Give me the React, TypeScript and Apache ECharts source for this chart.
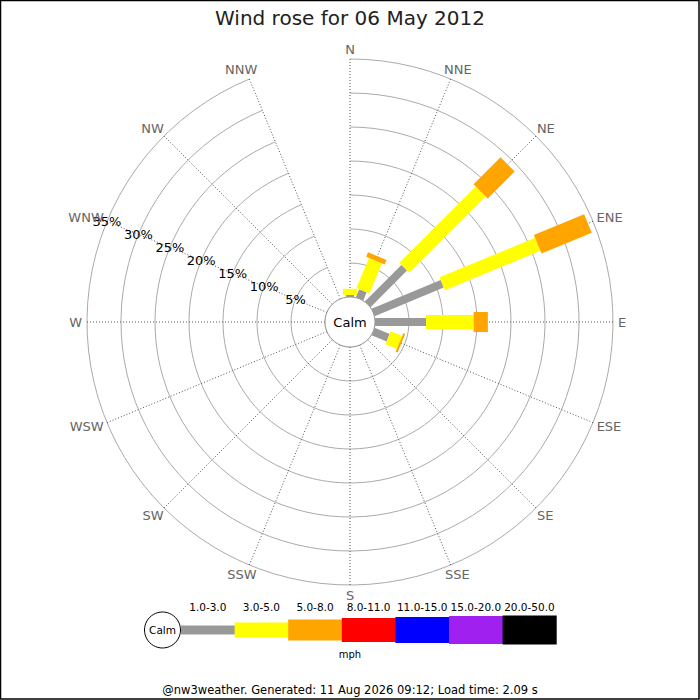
import React, { useEffect, useRef } from "react";
import * as echarts from "echarts";

const TITLE = "Wind rose for 06 May 2012";
const FOOTER = "@nw3weather. Generated: 11 Aug 2026 09:12; Load time: 2.09 s";
const DIRECTIONS = ["N", "NNE", "NE", "ENE", "E", "ESE", "SE", "SSE", "S", "SSW", "SW", "WSW", "W", "WNW", "NW", "NNW"];
const SPEED_CLASSES = ["1.0-3.0", "3.0-5.0", "5.0-8.0", "8.0-11.0", "11.0-15.0", "15.0-20.0", "20.0-50.0"];
const CLASS_COLORS = ["#999999", "#ffff00", "#ffa500", "#ff0000", "#0000ff", "#a020f0", "#000000"];
const CLASS_WIDTHS = [8, 14, 20, 23, 25, 27, 28];
const UNIT = "mph";
const CALM_LABEL = "Calm";

// frequency (%) per direction for each speed class
const FREQ_1_3 = [0.3, 1.3, 7.6, 11.0, 7.5, 2.4, 0, 0, 0, 0, 0, 0, 0, 0, 0, 0];
const FREQ_3_5 = [0.9, 4.8, 15.9, 15.2, 7.0, 1.8, 0, 0, 0, 0, 0, 0, 0, 0, 0, 0];
const FREQ_5_8 = [0, 0.7, 5.6, 8.0, 2.1, 0.3, 0, 0, 0, 0, 0, 0, 0, 0, 0, 0];
const FREQ_8_11 = [0, 0, 0, 0, 0, 0, 0, 0, 0, 0, 0, 0, 0, 0, 0, 0];
const FREQ_11_15 = [0, 0, 0, 0, 0, 0, 0, 0, 0, 0, 0, 0, 0, 0, 0, 0];
const FREQ_15_20 = [0, 0, 0, 0, 0, 0, 0, 0, 0, 0, 0, 0, 0, 0, 0, 0];
const FREQ_20_50 = [0, 0, 0, 0, 0, 0, 0, 0, 0, 0, 0, 0, 0, 0, 0, 0];
const RING_TICKS = [5, 10, 15, 20, 25, 30, 35];
const RING_MAX = 35;
const RING_LABEL_DIRECTION = "WNW";

const FONT = "DejaVu Sans";

function measureText(text: string, font: string): number {
  const cv = document.createElement("canvas");
  const ctx = cv.getContext("2d");
  if (!ctx) return text.length * 8;
  ctx.font = font;
  return ctx.measureText(text).width;
}

export default function App() {
  const ref = useRef<HTMLDivElement>(null);

  useEffect(() => {
    if (!ref.current) return;
    const chart = echarts.init(ref.current, undefined, { renderer: "svg" });

    const classes = [FREQ_1_3, FREQ_3_5, FREQ_5_8, FREQ_8_11, FREQ_11_15, FREQ_15_20, FREQ_20_50];
    const cum = DIRECTIONS.map(() => 0);
    const barSeries = classes.map((freqs, c) => {
      const data: number[][] = [];
      freqs.forEach((v, i) => {
        const s = cum[i];
        const e = s + v;
        cum[i] = e;
        if (v > 0) data.push([i, s, e]);
      });
      const w = CLASS_WIDTHS[c];
      return {
        type: "custom",
        name: SPEED_CLASSES[c],
        coordinateSystem: "polar",
        encode: { angle: 0, radius: 2 },
        data,
        z: 3 + c,
        renderItem: (params: any, api: any) => {
          const i = api.value(0);
          const s = api.value(1);
          const e = api.value(2);
          const p0 = api.coord([s, i]);
          const p1 = api.coord([e, i]);
          let dx = p1[0] - p0[0];
          let dy = p1[1] - p0[1];
          const len = Math.sqrt(dx * dx + dy * dy) || 1;
          dx /= len;
          dy /= len;
          const nx = -dy * (w / 2);
          const ny = dx * (w / 2);
          return {
            type: "polygon",
            shape: {
              points: [
                [p0[0] + nx, p0[1] + ny],
                [p1[0] + nx, p1[1] + ny],
                [p1[0] - nx, p1[1] - ny],
                [p0[0] - nx, p0[1] - ny],
              ],
            },
            style: { fill: CLASS_COLORS[c] },
          };
        },
      };
    });

    const labelDirIdx = DIRECTIONS.indexOf(RING_LABEL_DIRECTION);
    const ringLabelSeries = {
      type: "custom",
      coordinateSystem: "polar",
      encode: { angle: 0, radius: 1 },
      data: RING_TICKS.map((t) => [labelDirIdx, t]),
      z: 20,
      renderItem: (params: any, api: any) => {
        const p = api.coord([api.value(1), api.value(0)]);
        return {
          type: "text",
          x: p[0],
          y: p[1],
          style: {
            text: api.value(1) + "%",
            fill: "#000",
            fontSize: 13,
            fontFamily: FONT,
            align: "center",
            verticalAlign: "middle",
          },
        };
      },
    };

    const dirFont = "13px \"" + FONT + "\"";
    const dirLabelSeries = {
      type: "custom",
      coordinateSystem: "polar",
      encode: { angle: 0, radius: 1 },
      data: DIRECTIONS.map((d, i) => [i, RING_MAX]),
      z: 20,
      renderItem: (params: any, api: any) => {
        const idx = api.value(0);
        const text = DIRECTIONS[idx];
        const p = api.coord([api.value(1), idx]);
        const cs = params.coordSys;
        const dx = p[0] - cs.cx;
        const dy = cs.cy - p[1];
        const r = Math.sqrt(dx * dx + dy * dy) || 1;
        const s = dx / r;
        const c = dy / r;
        const hw = measureText(text, dirFont) / 2;
        return {
          type: "text",
          x: p[0] + s * (hw + 5),
          y: p[1] - c * 10,
          style: {
            text,
            fill: "#666",
            fontSize: 13,
            fontFamily: FONT,
            align: "center",
            verticalAlign: "middle",
          },
        };
      },
    };

    // legend graphics
    const legendY = 630;
    const legendX0 = 181;
    const segW = 53.6;
    const legendEls: any[] = [];
    SPEED_CLASSES.forEach((lab, c) => {
      const x = legendX0 + c * segW;
      const h = CLASS_WIDTHS[c] + 1;
      legendEls.push({
        type: "rect",
        z: 100,
        shape: { x, y: legendY - h / 2, width: segW + 0.5, height: h },
        style: { fill: CLASS_COLORS[c] },
      });
      legendEls.push({
        type: "text",
        z: 100,
        x: x + segW / 2,
        y: 607,
        style: { text: lab, fill: "#000", fontSize: 10.5, fontFamily: FONT, align: "center", verticalAlign: "middle" },
      });
    });
    legendEls.push({
      type: "circle",
      z: 100,
      shape: { cx: 162.5, cy: legendY, r: 18 },
      style: { fill: "#fff", stroke: "#000", lineWidth: 1 },
    });
    legendEls.push({
      type: "text",
      z: 101,
      x: 162.5,
      y: legendY,
      style: { text: CALM_LABEL, fill: "#000", fontSize: 10.5, fontFamily: FONT, align: "center", verticalAlign: "middle" },
    });
    legendEls.push({
      type: "text",
      z: 100,
      x: 350,
      y: 654,
      style: { text: UNIT, fill: "#000", fontSize: 10, fontFamily: FONT, align: "center", verticalAlign: "middle" },
    });

    const option: any = {
      animation: false,
      backgroundColor: "#fff",
      textStyle: { fontFamily: FONT },
      title: {
        text: TITLE,
        left: "center",
        top: 3,
        textStyle: { fontSize: 20, fontWeight: "normal", color: "#222", fontFamily: FONT },
      },
      polar: { center: [350, 322], radius: [25, 263] },
      angleAxis: {
        type: "category",
        data: DIRECTIONS,
        boundaryGap: false,
        startAngle: 90,
        clockwise: true,
        axisLine: { show: false },
        axisTick: { show: false },
        axisLabel: { show: false },
        splitLine: { show: true, lineStyle: { color: "#555", width: 1, type: [1, 2] } },
      },
      radiusAxis: {
        type: "value",
        min: 0,
        max: RING_MAX,
        interval: 5,
        axisLine: { show: false },
        axisTick: { show: false },
        axisLabel: { show: false },
        splitLine: { show: true, lineStyle: { color: "#aaaaaa", width: 1 } },
      },
      series: [...barSeries, ringLabelSeries, dirLabelSeries],
      graphic: [
        {
          type: "rect",
          z: 100,
          shape: { x: 0.5, y: 0.5, width: 698.5, height: 698.5 },
          style: { fill: "none", stroke: "#000", lineWidth: 1.5 },
        },
        {
          type: "circle",
          z: 100,
          shape: { cx: 350, cy: 322, r: 25 },
          style: { fill: "#fff", stroke: "#999", lineWidth: 1 },
        },
        {
          type: "text",
          z: 101,
          x: 350,
          y: 322,
          style: { text: CALM_LABEL, fill: "#000", fontSize: 13, fontFamily: FONT, align: "center", verticalAlign: "middle" },
        },
        ...legendEls,
        {
          type: "text",
          z: 100,
          x: 350,
          y: 690,
          style: { text: FOOTER, fill: "#000", fontSize: 11.5, fontFamily: FONT, align: "center", verticalAlign: "middle" },
        },
      ],
    };

    chart.setOption(option);
    return () => chart.dispose();
  }, []);

  return <div ref={ref} style={{ position: "fixed", left: 0, top: 0, width: 700, height: 700 }} />;
}
